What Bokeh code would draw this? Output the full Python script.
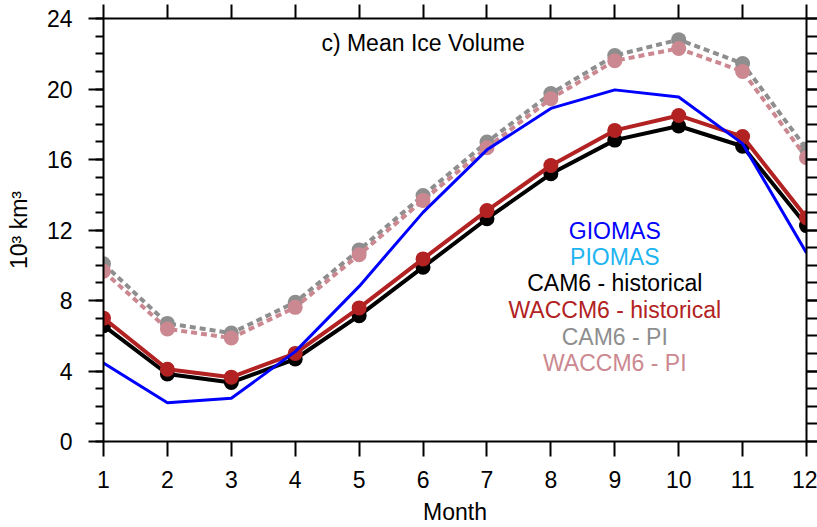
from bokeh.plotting import figure
from bokeh.models import LinearAxis, FixedTicker, Range1d, Label, CustomJSTickFormatter
from bokeh.core.properties import value
from bokeh.embed import file_html
from bokeh.resources import INLINE

months = [1, 2, 3, 4, 5, 6, 7, 8, 9, 10, 11, 12]
giomas = [4.45, 2.2, 2.45, 5.1, 8.8, 13.0, 16.55, 18.9, 19.95, 19.55, 16.9, 10.7]
cam6_hist = [6.57, 3.83, 3.35, 4.68, 7.14, 9.89, 12.64, 15.19, 17.1, 17.9, 16.75, 12.25]
waccm6_hist = [7.0, 4.1, 3.65, 5.0, 7.58, 10.36, 13.1, 15.66, 17.65, 18.5, 17.3, 12.7]
cam6_pi = [10.08, 6.7, 6.15, 7.9, 10.87, 13.96, 16.99, 19.74, 21.9, 22.8, 21.45, 16.6]
waccm6_pi = [9.66, 6.39, 5.87, 7.61, 10.6, 13.68, 16.67, 19.45, 21.6, 22.3, 21.0, 16.1]

legend_labels = ["GIOMAS", "PIOMAS", "CAM6 - historical", "WACCM6 - historical", "CAM6 - PI", "WACCM6 - PI"]
legend_colors = ["#0000FF", "#1EB4F0", "#000000", "#B22222", "#8E8E8E", "#CC8890"]
legend_x = [9, 9, 9, 9, 9, 9]
legend_y = [11.93, 10.45, 8.98, 7.47, 5.95, 4.43]

y_ticks = [0, 4, 8, 12, 16, 20, 24]
y_minor = [float(v) for v in range(0, 25)]

FONT = "Liberation Sans"

p = figure(width=817, height=527, output_backend="svg", toolbar_location=None,
           x_range=Range1d(1, 12), y_range=Range1d(0, 24),
           min_border_left=103, min_border_right=11, min_border_top=18, min_border_bottom=86)
p.grid.visible = False
p.outline_line_color = None
p.background_fill_color = "white"
p.border_fill_color = "white"

blank = CustomJSTickFormatter(code="return '';")

def style_axis(ax):
    ax.axis_line_width = 2
    ax.axis_line_color = "black"
    ax.major_tick_line_width = 2
    ax.minor_tick_line_width = 2
    ax.major_tick_in = 0
    ax.minor_tick_in = 0
    ax.major_label_text_font = FONT
    ax.major_label_text_font_size = "23px"
    ax.major_label_text_color = "black"
    ax.axis_label_text_font = FONT
    ax.axis_label_text_font_style = "normal"
    ax.axis_label_text_font_size = "23px"
    ax.axis_label_text_color = "black"

# bottom axis
xa = p.xaxis[0]
xa.ticker = FixedTicker(ticks=months)
style_axis(xa)
xa.major_tick_out = 15
xa.major_label_standoff = 14
xa.axis_label = "Month"
xa.axis_label_standoff = 8

# left axis
ya = p.yaxis[0]
ya.ticker = FixedTicker(ticks=y_ticks, minor_ticks=y_minor)
style_axis(ya)
ya.major_tick_out = 15
ya.minor_tick_out = 8
ya.major_label_standoff = 16
ya.axis_label = "10³ km³"
ya.axis_label_standoff = 12

# top axis
ta = LinearAxis(ticker=FixedTicker(ticks=months), formatter=blank)
style_axis(ta)
ta.major_tick_out = 14
ta.major_label_standoff = 0
p.add_layout(ta, "above")

# right axis
ra = LinearAxis(ticker=FixedTicker(ticks=y_ticks, minor_ticks=y_minor), formatter=blank)
style_axis(ra)
ra.major_tick_out = 11
ra.minor_tick_out = 11
ra.major_label_standoff = 0
p.add_layout(ra, "right")

# PI runs (dashed)
p.line(months, cam6_pi, line_color=legend_colors[4], line_width=4, line_dash="6 4")
p.scatter(months, cam6_pi, size=15, fill_color=legend_colors[4], line_color=None)
p.line(months, waccm6_pi, line_color=legend_colors[5], line_width=4, line_dash="6 4")
p.scatter(months, waccm6_pi, size=15, fill_color=legend_colors[5], line_color=None)

# historical runs
p.line(months, cam6_hist, line_color=legend_colors[2], line_width=4)
p.scatter(months, cam6_hist, size=15, fill_color=legend_colors[2], line_color=None)
p.line(months, waccm6_hist, line_color=legend_colors[3], line_width=4)
p.scatter(months, waccm6_hist, size=15, fill_color=legend_colors[3], line_color=None)

# observations
p.line(months, giomas, line_color=legend_colors[0], line_width=3)

# legend texts
p.text(x=legend_x, y=legend_y, text=legend_labels, text_color=legend_colors,
       text_font=value(FONT), text_font_size="23px", text_align="center",
       text_baseline="middle")

title = Label(x=6, y=22.6, text="c) Mean Ice Volume", text_font=FONT,
              text_font_size="23px", text_align="center", text_baseline="middle",
              text_color="black")
p.add_layout(title)

open("out.html", "w").write(file_html(p, INLINE))
